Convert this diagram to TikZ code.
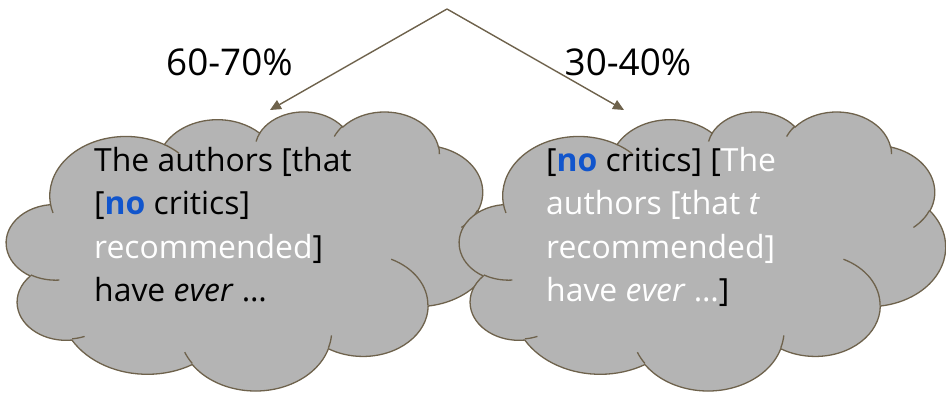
\documentclass[tikz,border=0pt]{standalone}
\usepackage{fontspec}
\setmainfont{Open Sans}
\usetikzlibrary{arrows.meta}
\definecolor{cloudfill}{RGB}{180,180,180}
\definecolor{cloudedge}{RGB}{110,98,76}
\definecolor{quantblue}{RGB}{17,85,204}
\tikzset{puff/.style n args={4}{x radius=#1,y radius=#2,
  start angle={atan2(#1*sin(#3),#2*cos(#3))},
  delta angle={mod(atan2(#1*sin(#3+#4),#2*cos(#3+#4))-atan2(#1*sin(#3),#2*cos(#3))+720,360)}},
 puffbody/.style={fill=cloudfill,draw=cloudedge,line width=1.3bp},
 wrinkle/.style={draw=cloudedge,line width=1.3bp},
 branch/.style={-{Triangle[length=11bp,width=10bp]},draw=cloudedge,line width=1.4bp},
 gloss/.style={font=\fontsize{32}{43.6}\selectfont,align=left,inner sep=0pt,anchor=base west},
 share/.style={font=\fontsize{37}{42}\selectfont,inner sep=0pt,anchor=base west}}
\newcommand\thoughtcloud{%
\filldraw[puffbody] (39,143.7)
 arc[puff={67.53}{91.90}{-190.4875}{123.7805}]
 arc[puff={53.33}{72.67}{-144.1024}{89.9452}]
 arc[puff={43.65}{59.45}{-145.8079}{99.7230}]
 arc[puff={48.57}{65.95}{-130.9861}{117.2417}]
 arc[puff={53.33}{72.73}{-78.7089}{109.0269}]
 arc[puff={67.75}{92.20}{-46.2673}{130.2690}]
 arc[puff={57.85}{78.67}{0.6250}{114.0333}]
 arc[puff={67.52}{92.15}{22.4516}{115.1726}]
 arc[puff={77.20}{105.43}{66.2426}{75.7110}]
 arc[puff={43.60}{59.18}{-274.9421}{146.7356}]
 arc[puff={43.45}{59.45}{-246.8285}{152.5189}] -- cycle;
\draw[wrinkle] (46.93,261.77) arc[puff={43.45}{59.45}{86.742}{26.4295}]
 (69.28,348.99) arc[puff={43.60}{59.18}{73.6105}{11.4475}]
 (164.78,390.90) arc[puff={67.52}{92.15}{137.6242}{14.0811}]
 (288.27,347.51) arc[puff={67.52}{92.15}{6.4533}{15.9984}]
 (341.29,229.54) arc[puff={57.85}{78.67}{-70.2924}{70.9174}]
 (417.98,153.54) arc[puff={53.33}{72.73}{30.3180}{27.7515}]
 (383.24,54.26) arc[puff={48.57}{65.95}{-13.7443}{14.8589}]
 (290.78,39.52) arc[puff={48.57}{65.95}{-149.1815}{18.1954}]
 (221.41,47.20) arc[puff={43.65}{59.45}{-163.4943}{17.6864}]
 (140.00,51.92) arc[puff={67.53}{91.90}{-66.7070}{12.3194}]
 (41.27,157.89) arc[puff={67.53}{91.90}{157.6544}{11.8582}];}

\begin{document}
\begin{tikzpicture}[x=1bp,y=-1bp]
\useasboundingbox (0,0) rectangle (946,392);
\begin{scope}[shift={(6.5,111)},x=1.1273bp,y=-0.6458bp]
\thoughtcloud
\end{scope}
\begin{scope}[shift={(459.5,111)},x=1.125bp,y=-0.6458bp]
\thoughtcloud
\end{scope}
\coordinate (apex) at (447,9);
\coordinate (lefttip) at (270,110);
\coordinate (righttip) at (624,110);
\draw[branch] (apex) -- (lefttip);
\draw[branch] (apex) -- (righttip);
\node[share] (leftshare) at (166,75) {60-70\%};
\node[share] (rightshare) at (564.5,75) {30-40\%};
\node[gloss] (leftgloss) at (94,301.5) {The authors [that\\{}[\textcolor{quantblue}{\textbf{no}} critics]\\
 \textcolor{white}{recommended}]\\have \textit{ever} …};
\node[gloss] (rightgloss) at (546,301.5) {[\textcolor{quantblue}{\textbf{no}} critics] [\textcolor{white}{The}\\
 \textcolor{white}{authors [that \textit{t}}\\\textcolor{white}{recommended]}\\\textcolor{white}{have \textit{ever} …}]};
\end{tikzpicture}
\end{document}
